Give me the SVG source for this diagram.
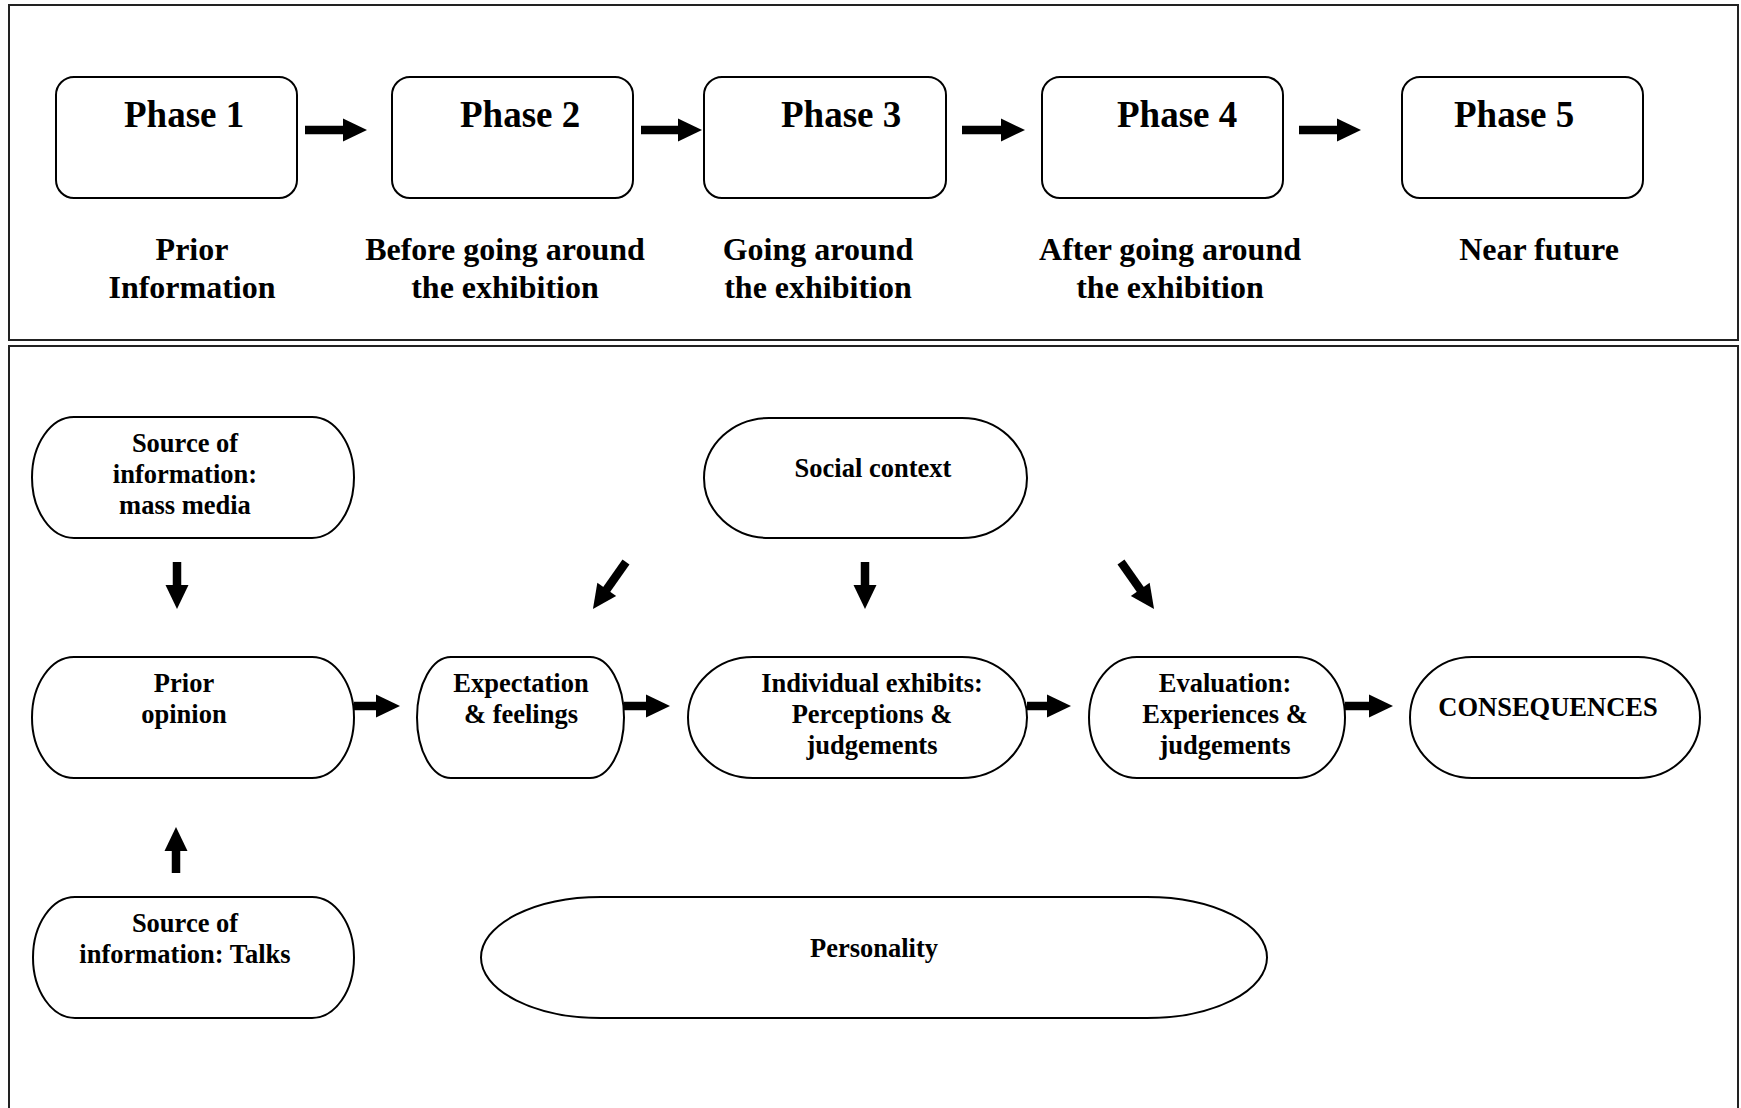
<svg xmlns="http://www.w3.org/2000/svg" width="1741" height="1108" viewBox="0 0 1741 1108">
  <style>
    .frame { fill: none; stroke: #222; stroke-width: 2; }
    .box { fill: #fff; stroke: #000; stroke-width: 2; }
    .phase { font-family: "Liberation Serif", "Times New Roman", serif; font-weight: bold; font-size: 37px; fill: #000; }
    .stage { font-family: "Liberation Serif", "Times New Roman", serif; font-weight: bold; font-size: 32px; fill: #000; text-anchor: middle; }
    .lbl { font-family: "Liberation Serif", "Times New Roman", serif; font-weight: bold; font-size: 26.5px; fill: #000; text-anchor: middle; }
    .arr { stroke: #000; stroke-width: 8.5; fill: none; marker-end: url(#head); }
  </style>
  <defs>
    <marker id="head" markerUnits="userSpaceOnUse" markerWidth="24" markerHeight="23" refX="2" refY="11.5" orient="auto" overflow="visible">
      <path d="M0,0 L24,11.5 L0,23 Z" fill="#000"/>
    </marker>
  </defs>

  <rect width="1741" height="1108" fill="#fff"/>

  <!-- panel frames -->
  <rect class="frame" x="9" y="5" width="1729" height="335"/>
  <rect class="frame" x="9" y="346" width="1729" height="780"/>

  <!-- timeline phases -->
  <g id="phase1">
    <rect class="box" x="56" y="77" width="241" height="121" rx="18" ry="18"/>
    <text class="phase" x="124" y="127">Phase 1</text>
    <text class="stage" x="192" y="260">Prior</text>
    <text class="stage" x="192" y="298">Information</text>
  </g>
  <g id="phase2">
    <rect class="box" x="392" y="77" width="241" height="121" rx="18" ry="18"/>
    <text class="phase" x="460" y="127">Phase 2</text>
    <text class="stage" x="505" y="260">Before going around</text>
    <text class="stage" x="505" y="298">the exhibition</text>
  </g>
  <g id="phase3">
    <rect class="box" x="704" y="77" width="242" height="121" rx="18" ry="18"/>
    <text class="phase" x="781" y="127">Phase 3</text>
    <text class="stage" x="818" y="260">Going around</text>
    <text class="stage" x="818" y="298">the exhibition</text>
  </g>
  <g id="phase4">
    <rect class="box" x="1042" y="77" width="241" height="121" rx="18" ry="18"/>
    <text class="phase" x="1117" y="127">Phase 4</text>
    <text class="stage" x="1170" y="260">After going around</text>
    <text class="stage" x="1170" y="298">the exhibition</text>
  </g>
  <g id="phase5">
    <rect class="box" x="1402" y="77" width="241" height="121" rx="18" ry="18"/>
    <text class="phase" x="1454" y="127">Phase 5</text>
    <text class="stage" x="1539" y="260">Near future</text>
  </g>

  <!-- model nodes -->
  <g id="mass-media">
    <rect class="box" x="32" y="417" width="322" height="121" rx="42" ry="60.5"/>
    <text class="lbl" x="185" y="452">Source of</text>
    <text class="lbl" x="185" y="483">information:</text>
    <text class="lbl" x="185" y="514">mass media</text>
  </g>
  <g id="social-context">
    <rect class="box" x="704" y="418" width="323" height="120" rx="65" ry="60"/>
    <text class="lbl" x="873" y="477">Social context</text>
  </g>
  <g id="prior-opinion">
    <rect class="box" x="32" y="657" width="322" height="121" rx="42" ry="60.5"/>
    <text class="lbl" x="184" y="692">Prior</text>
    <text class="lbl" x="184" y="723">opinion</text>
  </g>
  <g id="expectation">
    <rect class="box" x="417" y="657" width="207" height="121" rx="34" ry="60.5"/>
    <text class="lbl" x="521" y="692">Expectation</text>
    <text class="lbl" x="521" y="723">&amp; feelings</text>
  </g>
  <g id="individual-exhibits">
    <rect class="box" x="688" y="657" width="339" height="121" rx="65" ry="60.5"/>
    <text class="lbl" x="872" y="692">Individual exhibits:</text>
    <text class="lbl" x="872" y="723">Perceptions &amp;</text>
    <text class="lbl" x="872" y="754">judgements</text>
  </g>
  <g id="evaluation">
    <rect class="box" x="1089" y="657" width="256" height="121" rx="48" ry="60.5"/>
    <text class="lbl" x="1225" y="692">Evaluation:</text>
    <text class="lbl" x="1225" y="723">Experiences &amp;</text>
    <text class="lbl" x="1225" y="754">judgements</text>
  </g>
  <g id="consequences">
    <rect class="box" x="1410" y="657" width="290" height="121" rx="62" ry="60.5"/>
    <text class="lbl" x="1548" y="716">CONSEQUENCES</text>
  </g>
  <g id="talks">
    <rect class="box" x="33" y="897" width="321" height="121" rx="42" ry="60.5"/>
    <text class="lbl" x="185" y="932">Source of</text>
    <text class="lbl" x="185" y="963">information: Talks</text>
  </g>
  <g id="personality">
    <rect class="box" x="481" y="897" width="786" height="121" rx="120" ry="60.5"/>
    <text class="lbl" x="874" y="957">Personality</text>
  </g>

  <!-- connectors -->
  <g id="connectors">
    <line class="arr" x1="305" y1="130" x2="345" y2="130"/>
    <line class="arr" x1="641" y1="130" x2="680" y2="130"/>
    <line class="arr" x1="962" y1="130" x2="1003" y2="130"/>
    <line class="arr" x1="1299" y1="130" x2="1339" y2="130"/>

    <line class="arr" x1="177" y1="562" x2="177" y2="587"/>
    <line class="arr" x1="626" y1="562" x2="605.6" y2="591"/>
    <line class="arr" x1="865" y1="562" x2="865" y2="587"/>
    <line class="arr" x1="1121" y1="562" x2="1141.4" y2="591"/>

    <line class="arr" x1="354" y1="706" x2="378" y2="706"/>
    <line class="arr" x1="624" y1="706" x2="648" y2="706"/>
    <line class="arr" x1="1027" y1="706" x2="1049" y2="706"/>
    <line class="arr" x1="1345" y1="706" x2="1371" y2="706"/>

    <line class="arr" x1="176" y1="873" x2="176" y2="849"/>
  </g>
</svg>
